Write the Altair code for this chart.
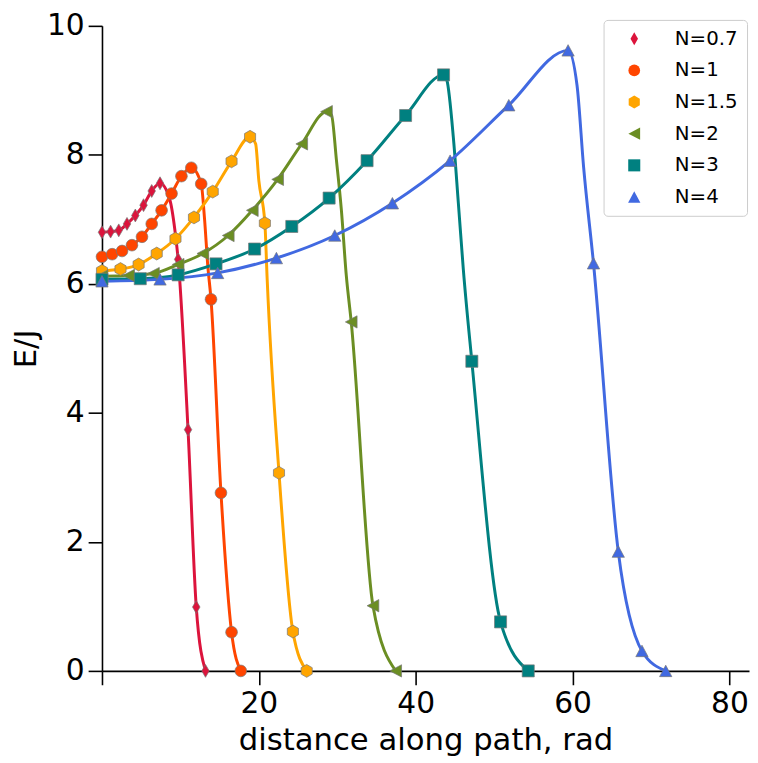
import altair as alt
import pandas as pd

series_names = ["N=0.7", "N=1", "N=1.5", "N=2", "N=3", "N=4"]
series_colors = ["#DC143C", "#FF4500", "#FFA500", "#6B8E23", "#008080", "#4169E1"]
diamond = "M0,-1.1L0.64,0L0,1.1L-0.64,0Z"
hexagon = "M0,-1.1L0.95,-0.55L0.95,0.55L0,1.1L-0.95,0.55L-0.95,-0.55Z"
tri_left = "M-1.0,0L1.0,-1.05L1.0,1.05Z"
square = "M-1.03,-1.03L1.03,-1.03L1.03,1.03L-1.03,1.03Z"
tri_up = "M0,-0.98L1.05,0.98L-1.05,0.98Z"
series_shapes = [diamond, "circle", hexagon, tri_left, square, tri_up]

# marker positions (distance along path, energy)
n07_x = [0.0, 1.10, 2.14, 3.19, 4.25, 5.30, 6.34, 7.40, 9.71, 10.97, 12.02, 13.2]
n07_y = [6.80, 6.81, 6.83, 6.93, 7.06, 7.22, 7.44, 7.56, 6.38, 3.74, 0.99, 0.0]
n1_x = [0.0, 1.30, 2.56, 3.82, 5.10, 6.34, 7.60, 8.87, 10.13, 11.39, 12.65, 13.9, 15.17, 16.52, 17.7]
n1_y = [6.42, 6.46, 6.51, 6.60, 6.73, 6.93, 7.14, 7.40, 7.67, 7.80, 7.55, 5.76, 2.76, 0.60, 0.0]
n15_x = [0.0, 2.36, 4.67, 6.98, 9.37, 11.73, 14.12, 16.52, 18.88, 20.77, 22.57, 24.34, 26.1]
n15_y = [6.20, 6.23, 6.30, 6.47, 6.70, 7.03, 7.43, 7.90, 8.28, 6.94, 3.07, 0.61, 0.0]
n2_x = [0.0, 3.40, 6.56, 9.71, 12.86, 16.1, 19.17, 22.4, 25.47, 28.63, 31.78, 34.55, 37.45]
n2_y = [6.12, 6.13, 6.16, 6.30, 6.47, 6.75, 7.14, 7.62, 8.17, 8.67, 5.41, 1.01, 0.0]
n3_x = [0.0, 4.88, 9.71, 14.54, 19.46, 24.2, 28.96, 33.8, 38.71, 43.55, 47.16, 50.82, 54.35]
n3_y = [6.07, 6.08, 6.14, 6.31, 6.54, 6.89, 7.33, 7.91, 8.61, 9.24, 4.80, 0.76, 0.0]
n4_x = [0.0, 7.40, 14.75, 22.24, 29.68, 37.03, 44.39, 51.87, 59.43, 62.67, 65.83, 68.85, 71.88]
n4_y = [6.04, 6.07, 6.17, 6.40, 6.75, 7.25, 7.91, 8.77, 9.62, 6.32, 1.85, 0.31, 0.0]

# extra points
n07_cx, n07_cy = [8.66, 9.29], [7.30, 6.84]
n1_cx, n1_cy = [13.08, 13.49], [7.0, 6.28]
n15_cx, n15_cy = [19.59, 20.0, 21.06], [8.17, 7.60, 6.08]
n2_cx, n2_cy = [29.26, 29.9, 30.52, 31.15], [8.62, 7.91, 7.15, 6.13]
n3_cx, n3_cy = [43.97, 44.8, 45.44, 46.07], [9.16, 8.27, 7.25, 6.23]
n4_cx, n4_cy = [60.57, 61.41], [9.08, 7.81]

markers = [(n07_x, n07_y), (n1_x, n1_y), (n15_x, n15_y), (n2_x, n2_y), (n3_x, n3_y), (n4_x, n4_y)]
curves = [(n07_cx, n07_cy), (n1_cx, n1_cy), (n15_cx, n15_cy), (n2_cx, n2_cy), (n3_cx, n3_cy), (n4_cx, n4_cy)]

pt_rows, ln_rows = [], []
for name, (mx, my), (cx, cy) in zip(series_names, markers, curves):
    for a, b in zip(mx, my):
        pt_rows.append({"x": a, "y": b, "series": name})
        ln_rows.append({"x": a, "y": b, "series": name})
    for a, b in zip(cx, cy):
        ln_rows.append({"x": a, "y": b, "series": name})
df_points = pd.DataFrame(pt_rows)
df_lines = pd.DataFrame(ln_rows).sort_values(["series", "x"])

color_scale = alt.Scale(domain=series_names, range=series_colors)
shape_scale = alt.Scale(domain=series_names, range=series_shapes)

legend = alt.Legend(
    title=None, orient="none", legendX=507, legendY=-6,
    labelFontSize=20, labelFont="DejaVu Sans", labelColor="black",
    symbolSize=140, rowPadding=12, padding=9, symbolOffset=12, labelOffset=31,
    cornerRadius=4, strokeColor="#cccccc", fillColor="white",
    symbolStrokeColor="#777777", symbolStrokeWidth=0.7, symbolOpacity=1,
)

xscale = alt.Scale(domain=[0, 82.5], nice=False, zero=False)
yscale = alt.Scale(domain=[0, 10], nice=False)
xaxis = alt.Axis(
    values=[0, 20, 40, 60, 80], format="d", labelExpr="datum.value == 0 ? '' : datum.label",
    title="distance along path, rad", grid=False, labelFlush=False, titlePadding=7,
)
yaxis = alt.Axis(values=[0, 2, 4, 6, 8, 10], format="d", title="E/J", grid=False,
                 labelFlush=False, titlePadding=4)

line_layers = []
for i, (name, col) in enumerate(zip(series_names, series_colors)):
    if i == 0:
        enc = dict(x=alt.X("x:Q", scale=xscale, axis=xaxis), y=alt.Y("y:Q", scale=yscale, axis=yaxis))
    else:
        enc = dict(x=alt.X("x:Q", scale=xscale), y=alt.Y("y:Q", scale=yscale))
    line_layers.append(
        alt.Chart(df_lines)
        .transform_filter(alt.datum.series == name)
        .mark_line(interpolate="monotone", strokeWidth=3, color=col)
        .encode(**enc)
    )

points = alt.Chart(df_points).mark_point(
    filled=True, size=140, opacity=1, stroke="#777777", strokeWidth=0.7
).encode(
    x=alt.X("x:Q", scale=xscale),
    y=alt.Y("y:Q", scale=yscale),
    color=alt.Color("series:N", scale=color_scale, legend=legend),
    shape=alt.Shape("series:N", scale=shape_scale, legend=legend),
)

chart = (
    alt.layer(*line_layers, points)
    .properties(
        width=654, height=652,
        autosize=alt.AutoSizeParams(type="none"),
        padding={"left": 95, "top": 14, "right": 1, "bottom": 85},
        background="white",
    )
    .configure_view(stroke=None)
    .configure_axis(
        domainColor="black", domainWidth=1.6, tickColor="black", tickWidth=1.6, tickSize=14,
        labelFontSize=30, labelFont="DejaVu Sans", labelColor="black", labelPadding=4,
        titleFont="DejaVu Sans", titleFontSize=31, titleFontWeight="normal", titleColor="black",
    )
)

chart.save("out.html", embed_options={"renderer": "svg", "actions": False})
